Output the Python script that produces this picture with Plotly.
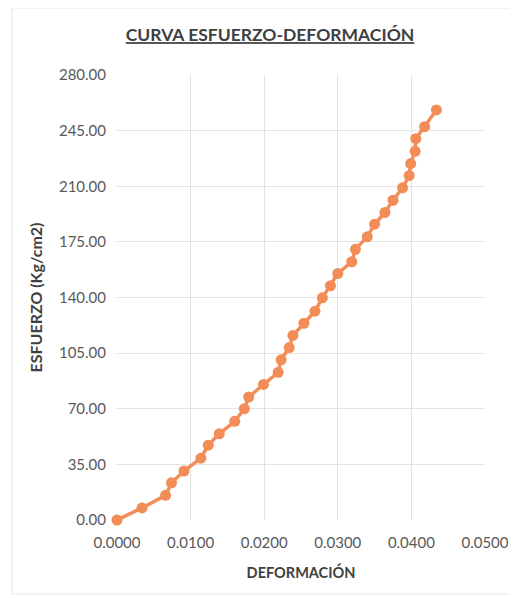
import plotly.graph_objects as go

deformacion = [0.0000, 0.0034, 0.0066, 0.0074, 0.0091, 0.0114, 0.0124, 0.0139, 0.0160, 0.0173,
               0.0179, 0.0199, 0.0219, 0.0223, 0.0234, 0.0239, 0.0254, 0.0269, 0.0279, 0.0290,
               0.0300, 0.0319, 0.0324, 0.0340, 0.0350, 0.0364, 0.0375, 0.0388, 0.0397, 0.0399,
               0.0405, 0.0406, 0.0418, 0.0434]
esfuerzo = [0.0, 7.6, 15.5, 23.4, 30.8, 38.9, 47.1, 54.2, 62.1, 70.0,
            77.4, 85.3, 92.9, 100.8, 108.5, 116.1, 123.8, 131.4, 139.8, 147.4,
            155.1, 162.5, 170.3, 178.2, 186.1, 193.5, 201.2, 209.0, 216.7, 224.3,
            232.0, 239.9, 247.5, 258.0]

title_text = "CURVA ESFUERZO-DEFORMACIÓN"
x_title = "DEFORMACIÓN"
y_title = "ESFUERZO (Kg/cm2)"

FONT = "Lato"
ORANGE = "#F38D58"

W, H = 509, 590
L, R, T, B = 109, 32, 67, 78
PW, PH = W - L - R, H - T - B

fig = go.Figure()
fig.add_trace(go.Scatter(
    x=deformacion, y=esfuerzo, mode="lines+markers",
    line=dict(color=ORANGE, width=3.5),
    marker=dict(color=ORANGE, size=11),
    cliponaxis=False, showlegend=False,
))

fig.update_layout(
    width=W, height=H,
    paper_bgcolor="white", plot_bgcolor="white",
    margin=dict(l=L, r=R, t=T, b=B, autoexpand=False),
    font=dict(family=FONT, color="#595959", size=15),
    title=dict(text="<b><u>" + title_text + "</u></b>", xref="container", x=262 / W,
               xanchor="center", y=1 - 27 / H, yanchor="middle",
               font=dict(family=FONT, size=17.5, color="#404040")),
    xaxis=dict(range=[0, 0.05], dtick=0.01, tick0=0, tickformat=".4f",
               showgrid=True, gridcolor="#e3e3e3", gridwidth=1,
               zeroline=False, showline=False, ticks="", ticklabelstandoff=12,
               title=dict(text="<b>" + x_title + "</b>", standoff=17,
                          font=dict(family=FONT, size=14.5, color="#404040"))),
    yaxis=dict(range=[0, 280], dtick=35, tick0=0, tickformat=".2f",
               showgrid=True, gridcolor="#e3e3e3", gridwidth=1,
               zeroline=False, showline=False, ticks="", ticklabelstandoff=10,
               title=dict(text="<b>" + y_title + "</b>", standoff=12,
                          font=dict(family=FONT, size=16, color="#404040"))),
)
fig.add_shape(type="rect", xref="paper", yref="paper",
              x0=(12 - 117) / PW, x1=(515 - 117) / PW,
              y0=(520 - 594) / PH, y1=(520 - 8) / PH,
              line=dict(color="#e6e6e6", width=1), layer="below")

fig.write_html("out.html")
